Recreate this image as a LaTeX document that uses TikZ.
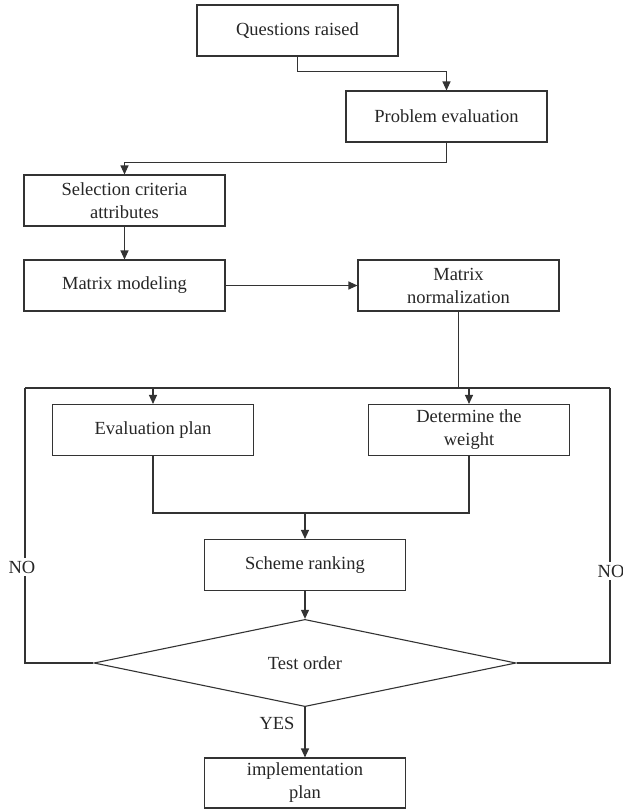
\documentclass[tikz,border=0pt]{standalone}
\usepackage{fontspec}
\setmainfont{Liberation Serif}
\usetikzlibrary{arrows.meta,shapes.geometric}
\begin{document}
\begin{tikzpicture}[x=1pt,y=-1pt,
  every node/.style={font=\fontsize{18.5}{23}\selectfont, text=black!85},
  box/.style={draw=black!80, line width=1.1pt, minimum width=201pt, minimum height=51pt, inner sep=0pt, align=center},
  conn/.style={draw=black!80, line width=1.1pt},
  arr/.style={conn, -{Triangle[length=9pt,width=8pt]}},
  lbl/.style={inner sep=3pt}]
\useasboundingbox (0,0) rectangle (623,812);
\node[box] (qr) at (297.5,30.5) {Questions raised};
\node[box] (pe) at (446.5,116.5) {Problem evaluation};
\node[box] (sca) at (124.5,200.5) {Selection criteria\\attributes};
\node[box] (mm) at (124.5,285.5) {Matrix modeling};
\node[box] (mn) at (458.5,285.5) {Matrix\\normalization};
\node[box] (ep) at (153,430) {Evaluation plan};
\node[box] (dw) at (469,430) {Determine the\\weight};
\node[box] (sr) at (305,565) {Scheme ranking};
\node[draw=black!80, line width=1.1pt, diamond, minimum width=422pt, minimum height=80pt, inner sep=0pt] (to) at (305,663) {Test order};
\node[box, minimum height=50pt] (ip) at (305,783) {implementation\\plan};
\coordinate (tl) at (25,388);
\coordinate (tr) at (610,388);
\coordinate (j) at (305,513);
\node[lbl] (nol) at (22,567) {NO};
\node[lbl] (nor) at (611,571) {NO};
\node[lbl] (yes) at (277,723) {YES};
% connectors
\draw[arr] (qr.south) -- ++(0,15) -| (pe.north);
\draw[arr] (pe.south) -- ++(0,20) -| (sca.north);
\draw[arr] (sca) -- (mm);
\draw[arr] (mm) -- (mn);
\draw[conn] (mn.south) -- (mn.south |- tl);
\draw[conn] (tl) -- (tr);
\draw[arr] (ep.north |- tl) -- (ep.north);
\draw[arr] (dw.north |- tl) -- (dw.north);
\draw[conn] (ep.south) -- (ep.south |- j) -- (dw.south |- j) -- (dw.south);
\draw[arr] (j) -- (sr.north);
\draw[arr] (sr) -- (to);
\draw[arr] (to) -- (ip);
\draw[conn] (to.west) -| (tl |- nol.south);
\draw[conn] (tl |- nol.north) -- (tl);
\draw[conn] (to.east) -| (tr |- nor.south);
\draw[conn] (tr |- nor.north) -- (tr);
\end{tikzpicture}
\end{document}
